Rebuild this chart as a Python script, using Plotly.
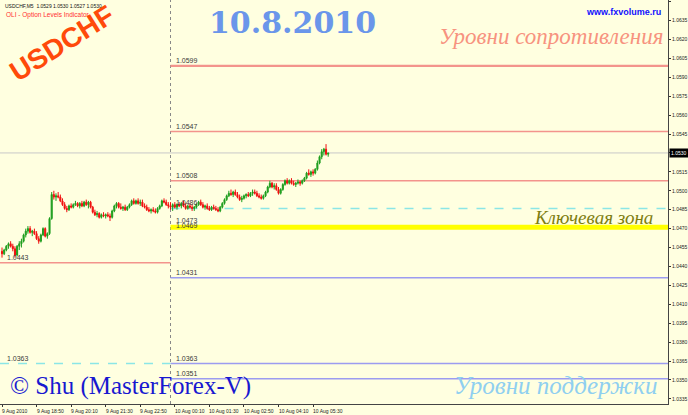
import pandas as pd
import plotly.graph_objects as go

# ---------------- data ----------------
first_bar = "2010-08-09 17:30"
bar_freq = "5min"
price_base = 1.0400          # candle values below are pips above this base

opens = [52, 50, 53, 56, 58, 56, 54, 49, 56, 58, 60, 65, 68, 70, 67, 68, 66, 62, 60, 65,
         70, 64, 66, 78, 97, 95, 96, 95, 92, 89, 86, 85, 88, 87, 89, 90, 88, 90, 88, 91,
         89, 91, 87, 83, 81, 82, 79, 81, 80, 81, 80, 79, 84, 88, 90, 87, 86, 87, 85, 87,
         89, 92, 90, 92, 90, 91, 88, 87, 85, 84, 85, 84, 83, 86, 88, 92, 91, 89, 88, 87,
         89, 87, 89, 88, 90, 88, 86, 88, 87, 86, 87, 89, 91, 89, 87, 88, 86, 85, 87, 86,
         85, 84, 87, 90, 93, 96, 98, 97, 99, 97, 95, 93, 94, 96, 97, 96, 98, 99, 98, 96,
         95, 94, 96, 99, 103, 106, 103, 104, 101, 98, 101, 105, 108, 106, 108, 106, 105, 106, 107, 106,
         108, 110, 114, 113, 115, 114, 117, 122, 127, 131, 133, 129]
highs = [55, 54, 57, 59, 60, 58, 56, 57, 60, 62, 66, 70, 72, 72, 69, 70, 68, 64, 66, 71,
         71, 67, 79, 99, 100, 98, 99, 97, 94, 91, 88, 89, 90, 90, 92, 91, 91, 92, 92, 93,
         92, 92, 88, 85, 84, 83, 82, 83, 82, 83, 82, 85, 89, 91, 91, 90, 88, 89, 88, 90,
         93, 94, 93, 94, 93, 93, 90, 89, 87, 86, 87, 86, 87, 89, 93, 94, 93, 91, 91, 90,
         91, 90, 91, 91, 92, 90, 89, 90, 89, 88, 90, 92, 93, 91, 89, 90, 88, 88, 89, 88,
         87, 88, 91, 94, 97, 100, 101, 100, 101, 99, 97, 96, 97, 98, 99, 99, 101, 101, 100, 98,
         97, 97, 100, 104, 108, 107, 106, 106, 103, 102, 106, 109, 110, 109, 110, 108, 107, 109, 108, 109,
         111, 115, 117, 116, 117, 118, 124, 128, 133, 134, 137, 130]
lows = [47, 49, 52, 54, 55, 52, 47, 48, 53, 55, 59, 63, 66, 66, 64, 65, 61, 58, 59, 64,
        63, 62, 65, 77, 93, 92, 94, 91, 88, 85, 83, 84, 86, 86, 88, 87, 86, 87, 87, 88,
        86, 86, 82, 80, 79, 78, 78, 79, 78, 79, 76, 78, 83, 86, 86, 85, 84, 84, 84, 86,
        88, 89, 89, 89, 88, 87, 86, 84, 83, 82, 83, 82, 82, 85, 87, 90, 88, 86, 85, 84,
        86, 85, 87, 86, 87, 85, 85, 86, 84, 84, 86, 88, 88, 86, 85, 85, 84, 84, 85, 84,
        83, 83, 86, 89, 92, 95, 96, 95, 96, 94, 92, 91, 93, 94, 95, 95, 96, 97, 95, 94,
        93, 93, 95, 98, 102, 102, 101, 100, 97, 97, 100, 104, 105, 105, 105, 104, 103, 105, 104, 105,
        107, 109, 112, 111, 112, 113, 116, 121, 125, 128, 128, 127]
closes = [50, 53, 56, 58, 56, 54, 49, 56, 58, 60, 65, 68, 70, 67, 68, 66, 62, 60, 65, 70,
          64, 66, 78, 97, 95, 96, 95, 92, 89, 86, 85, 88, 87, 89, 90, 88, 90, 88, 91, 89,
          91, 87, 83, 81, 82, 79, 81, 80, 81, 80, 79, 84, 88, 90, 87, 86, 87, 85, 87, 89,
          92, 90, 92, 90, 91, 88, 87, 85, 84, 85, 84, 83, 86, 88, 92, 91, 89, 88, 87, 89,
          87, 89, 88, 90, 88, 86, 88, 87, 86, 87, 89, 91, 89, 87, 88, 86, 85, 87, 86, 85,
          84, 87, 90, 93, 96, 98, 97, 99, 97, 95, 93, 94, 96, 97, 96, 98, 99, 98, 96, 95,
          94, 96, 99, 103, 106, 103, 104, 101, 98, 101, 105, 108, 106, 108, 106, 105, 106, 107, 106, 108,
          110, 114, 113, 115, 114, 117, 122, 127, 131, 133, 129, 130]

current_price = 1.0530
day_separator = "2010-08-10 00:00"
x_range = ["2010-08-09 17:25:22", "2010-08-10 19:11:30"]
y_range = [1.03309, 1.06513]

# option levels of the new day (drawn from the day separator to the right edge)
day_levels = [1.0599, 1.0547, 1.0508, 1.0486, 1.0431, 1.0363, 1.0351]
day_level_kind = ["res", "res", "res", "key", "sup", "sup", "sup"]
day_level_labels = ["1.0599", "1.0547", "1.0508", "1.0486", "1.0431", "1.0363", "1.0351"]
key_zone = [1.0469, 1.0473]
key_zone_labels = ["1.0469", "1.0473"]
# levels of the previous day (left of the separator)
prev_levels = [1.0443, 1.0363]
prev_level_kind = ["res", "key"]
prev_level_labels = ["1.0443", "1.0363"]

price_ticks = [1.0335, 1.0350, 1.0365, 1.0380, 1.0395, 1.0410, 1.0425, 1.0440, 1.0455,
               1.0470, 1.0485, 1.0500, 1.0515, 1.0530, 1.0545, 1.0560, 1.0575, 1.0590,
               1.0605, 1.0620, 1.0635, 1.0650]
time_ticks = ["2010-08-09 17:30", "2010-08-09 18:50", "2010-08-09 20:10", "2010-08-09 21:30",
              "2010-08-09 22:50", "2010-08-10 00:10", "2010-08-10 01:30", "2010-08-10 02:50",
              "2010-08-10 04:10", "2010-08-10 05:30"]
time_tick_labels = ["9 Aug 2010", "9 Aug 18:50", "9 Aug 20:10", "9 Aug 21:30", "9 Aug 22:50",
                    "10 Aug 00:10", "10 Aug 01:30", "10 Aug 02:50", "10 Aug 04:10", "10 Aug 05:30"]

# ---------------- figure ----------------
W, H = 688, 415
ML, MR, MT, MB = 0, 20, 0, 11
PW, PH = W - ML - MR, H - MT - MB

def px(x):
    return x / PW

def py(y):
    return 1 - y / PH

times = pd.date_range(first_bar, periods=len(opens), freq=bar_freq)
to_price = lambda vals: [round(price_base + v / 10000, 4) for v in vals]

fig = go.Figure()
fig.add_trace(go.Candlestick(
    x=times, open=to_price(opens), high=to_price(highs), low=to_price(lows), close=to_price(closes),
    increasing=dict(line=dict(color="#1f9e1f", width=1), fillcolor="#1f9e1f"),
    decreasing=dict(line=dict(color="#f01010", width=1), fillcolor="#f01010"),
    whiskerwidth=0, showlegend=False, hoverinfo="skip"))

style = {
    "res": dict(color="#f3948c", width=1.5, dash="solid"),
    "sup": dict(color="#9c9cf0", width=1.5, dash="solid"),
    "key": dict(color="#8be6e6", width=1.5, dash="dash"),
}

shapes = []
annotations = []
lab_font = dict(family="Liberation Sans, Arial", size=7, color="#3a3a3a")

# current price line
shapes.append(dict(type="line", xref="paper", yref="y", x0=0, x1=1, y0=current_price, y1=current_price,
                   line=dict(color="#c8c8c8", width=1), layer="below"))
# day separator
shapes.append(dict(type="line", xref="x", yref="paper", x0=day_separator, x1=day_separator, y0=0, y1=1,
                   line=dict(color="#888888", width=1, dash="dot"), layer="below"))
# key zone
shapes.append(dict(type="rect", xref="x", yref="y", x0=day_separator, x1=x_range[1],
                   y0=key_zone[0], y1=key_zone[1], fillcolor="#ffff00", line=dict(width=0), layer="below"))
for v, t in zip(key_zone, key_zone_labels):
    annotations.append(dict(x=day_separator, y=v, xref="x", yref="y", text=t, showarrow=False,
                            xanchor="left", yanchor="bottom", xshift=3, yshift=-1, font=lab_font))

for v, k, t in zip(day_levels, day_level_kind, day_level_labels):
    st = dict(style[k])
    if v == day_levels[0]:
        st["width"] = 2.2
    shapes.append(dict(type="line", xref="x", yref="y", x0=day_separator, x1=x_range[1], y0=v, y1=v,
                       line=st, layer="below"))
    annotations.append(dict(x=day_separator, y=v, xref="x", yref="y", text=t, showarrow=False,
                            xanchor="left", yanchor="bottom", xshift=3, yshift=0, font=lab_font))
for v, k, t in zip(prev_levels, prev_level_kind, prev_level_labels):
    shapes.append(dict(type="line", xref="x", yref="y", x0=x_range[0], x1=day_separator, y0=v, y1=v,
                       line=style[k], layer="below"))
    annotations.append(dict(x=x_range[0], y=v, xref="x", yref="y", text=t, showarrow=False,
                            xanchor="left", yanchor="bottom", xshift=5, yshift=0, font=lab_font))

# time axis labels (left aligned like the terminal)
for tv, tl in zip(time_ticks, time_tick_labels):
    annotations.append(dict(x=tv, y=0, xref="x", yref="paper", text=tl, showarrow=False,
                            xanchor="left", yanchor="top", xshift=-2, yshift=-2,
                            font=dict(family="Liberation Sans, Arial", size=5, color="#222222")))

# current price box on the axis
annotations.append(dict(x=1, y=current_price, xref="paper", yref="y", text=f"{current_price:.4f}",
                        showarrow=False, xanchor="left", yanchor="middle", xshift=1, bgcolor="#000000",
                        borderpad=1, font=dict(family="Liberation Sans, Arial", size=5, color="#ffffff")))

# header texts
def txt(x, y, text, font, xanchor="center", **kw):
    d = dict(x=px(x), y=py(y), xref="paper", yref="paper", xanchor=xanchor, yanchor="middle",
             showarrow=False, text=text, font=font)
    d.update(kw)
    return d

annotations += [
    txt(3, 5.5, "USDCHF,M5  1.0529 1.0530 1.0527 1.0530",
        dict(family="Liberation Sans, Arial", size=5, color="#111111"), xanchor="left"),
    txt(4, 14.5, "OLI - Option Levels Indicator",
        dict(family="Liberation Sans, Arial", size=6.5, color="#ff3030"), xanchor="left"),
    txt(62, 44, "<b>USDCHF</b>", dict(family="Liberation Sans, Arial", size=28, color="#ff4a0a"),
        textangle=-32),
    txt(292, 22, "<b>10.8.2010</b>", dict(family="DejaVu Serif", size=30, color="#6a96ea")),
    txt(623, 12, "<b>www.fxvolume.ru</b>", dict(family="Liberation Sans, Arial", size=9, color="#1010ff")),
    txt(551, 37, "<i>Уровни сопротивления</i>", dict(family="Liberation Serif", size=23, color="#f7937f")),
    txt(593, 217, "<i>Ключевая зона</i>", dict(family="Liberation Serif", size=19, color="#7d7d10")),
    txt(130, 386, "© Shu (MasterForex-V)", dict(family="Liberation Serif", size=25, color="#1818d0")),
    txt(556, 385, "<i>Уровни поддержки</i>", dict(family="Liberation Serif", size=25, color="#8fcff0")),
]

fig.update_layout(
    width=W, height=H, margin=dict(l=ML, r=MR, t=MT, b=MB, autoexpand=False),
    template="none", paper_bgcolor="#ffffe0", plot_bgcolor="#ffffe0",
    showlegend=False, shapes=shapes, annotations=annotations,
    xaxis=dict(type="date", range=x_range, rangeslider=dict(visible=False), showgrid=False, zeroline=False,
               tickvals=time_ticks, showticklabels=False, ticks="outside", ticklen=2, tickcolor="#333333",
               showline=True, linecolor="#444444", linewidth=1, automargin=False),
    yaxis=dict(side="right", range=y_range, tickvals=price_ticks, tickformat=".4f", showgrid=False,
               zeroline=False, ticks="outside", ticklen=2, tickcolor="#333333",
               tickfont=dict(family="Liberation Sans, Arial", size=5, color="#222222"),
               showline=True, linecolor="#444444", linewidth=1, automargin=False),
)

fig.write_html("out.html", config={"displayModeBar": False},
               post_script="document.body.style.margin='0';document.body.style.overflow='hidden';")
